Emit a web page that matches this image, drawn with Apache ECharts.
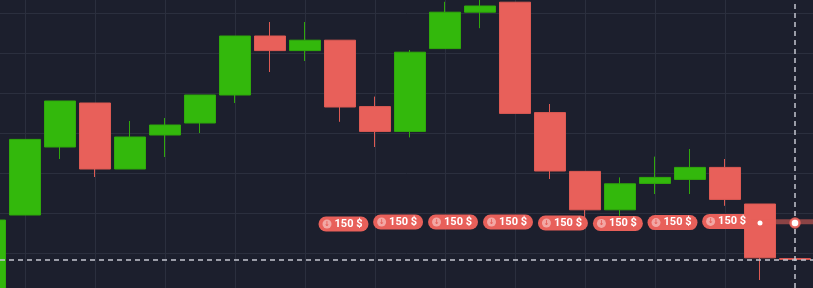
<!DOCTYPE html>
<html>
<head>
<meta charset="utf-8">
<script src="https://cdn.jsdelivr.net/npm/echarts@6/dist/echarts.min.js"></script>
<style>
html,body{margin:0;padding:0;background:#1c1f2d;}
#chart{width:813px;height:288px;}
</style>
</head>
<body>
<div id="chart"></div>
<script>
// Candle slot positions (index along time)
var slots = [0,1,2,3,4,5,6,7,8,9,10,11,12,13,14,15,16,17,18,19,20,21,22,23];
// OHLC
var opens  = [0, 19.5, 36.5, 47.5, 31, 39.5, 42.5, 49.5, 64.25, 60.6, 63.2, 46.6, 40.4, 61.1, 70.2, 72.7, 45.1, 30.4, 20.8, 27.4, 28.4, 31.4, 22.25, 8.6];
var closes = [18.25, 38.4, 48, 31, 39, 42, 49.5, 64.25, 60.6, 63.2, 46.5, 40.4, 60.2, 70.2, 71.75, 44.9, 30.5, 20.8, 27.3, 28.9, 31.4, 23.4, 8.8, 8.4];
var lows   = [0, 19.5, 33.5, 29, 31, 34, 40, 47.5, 55.25, 58, 42.8, 36.5, 38.9, 61.1, 66.2, 44.9, 28.5, 19, 19.3, 24.75, 24.75, 21.8, 3.25, 8.4];
var highs  = [18.25, 38.4, 48, 47.5, 43, 43.75, 49.5, 64.25, 67.75, 67.75, 63.2, 49.1, 60.75, 72.8, 73.5, 72.7, 47.25, 30.4, 28.9, 34.1, 36, 33.5, 22.25, 8.6];
// Trade markers ("150 $" pills)
var pillX = [10.1, 11.66, 13.23, 14.8, 16.37, 17.94, 19.5, 21.06];
var pillY = [17.25, 17.75, 17.75, 17.75, 17.5, 17.4, 17.6, 17.9];
var pillText = ['150 $','150 $','150 $','150 $','150 $','150 $','150 $','150 $'];
// current price / current time reference lines
var priceLine = 8.25;
var timeLine = 23;
// trail line and dots on the right
var trailX = [21.06, 23.6];
var trailY = [17.8, 17.8];
var dotSmall = [22, 17.5];
var dotBig = [23, 17.5];

// full-canvas extents (same scale as the plot)
var fullX = [0.285714, 23.514286];
var fullY = [1.25, 73.25];

var candleData = slots.map(function(x, i){ return [x, opens[i], closes[i], lows[i], highs[i]]; });

var RED = '#e8605a', GREEN = '#33b80c', GRID = '#2b2f3e';

var chart = echarts.init(document.getElementById('chart'), null, {renderer:'canvas'});
function hidden(o){ return Object.assign({type: 'value', axisLine: {show:false}, axisTick: {show:false}, axisLabel: {show:false}, splitLine: {show:false}}, o); }
chart.setOption({
  backgroundColor: '#1c1f2d',
  animation: false,
  grid: [
    {left: 25, right: 88, top: 0, bottom: 0},   // vertical grid lines, full height
    {left: 0, right: 0, top: 13, bottom: 35},   // horizontal grid lines, full width
    {left: 0, right: 0, top: 0, bottom: 0}      // overlay on whole canvas
  ],
  xAxis: [
    hidden({gridIndex: 0, min: 1, max: 21, interval: 2, splitLine: {show: true, lineStyle: {color: GRID, width: 1}}}),
    hidden({gridIndex: 1, min: fullX[0], max: fullX[1]}),
    hidden({gridIndex: 2, min: fullX[0], max: fullX[1]})
  ],
  yAxis: [
    hidden({gridIndex: 0, min: fullY[0], max: fullY[1]}),
    hidden({gridIndex: 1, min: 10, max: 70, interval: 10, splitLine: {show: true, lineStyle: {color: GRID, width: 1}}}),
    hidden({gridIndex: 2, min: fullY[0], max: fullY[1]})
  ],
  series: [{
    type: 'candlestick', xAxisIndex: 2, yAxisIndex: 2, data: candleData, barWidth: 31, clip: false,
    encode: {x: 0, y: [1, 2, 3, 4]},
    itemStyle: {color: GREEN, color0: RED, borderColor: '#2fa90b', borderColor0: '#dd5a53', borderWidth: 1}
  }, {
    type: 'line', xAxisIndex: 2, yAxisIndex: 2, symbol: 'none', silent: true, z: 3,
    data: [[fullX[0], priceLine], [fullX[1], priceLine]],
    lineStyle: {type: [5,4], color: '#c4c6cf', width: 1.5}
  }, {
    type: 'line', xAxisIndex: 2, yAxisIndex: 2, symbol: 'none', silent: true, z: 3,
    data: [[timeLine, fullY[0]], [timeLine, fullY[1]]],
    lineStyle: {type: [5,4], color: '#c4c6cf', width: 1.5}
  }, {
    type: 'line', xAxisIndex: 2, yAxisIndex: 2, silent: true,
    data: trailX.map(function(x,i){return [x, trailY[i]];}),
    symbol: 'none', lineStyle: {color: 'rgba(232,96,90,0.55)', width: 5}, z: 3
  }, {
    type: 'scatter', xAxisIndex: 2, yAxisIndex: 2, z: 4,
    data: pillX.map(function(x,i){ return {value:[x, pillY[i]], name: pillText[i]}; }),
    symbolSize: 1, itemStyle: {color: RED, opacity: 1},
    label: {
      show: true, position: 'inside',
      formatter: function(p){ return '{i|↓}{t|' + p.name + '}'; },
      backgroundColor: RED, borderRadius: 8, padding: [2,6,2,4],
      rich: {
        i: {width: 9, height: 9, lineHeight: 9, borderRadius: 4.5, backgroundColor: 'rgba(255,255,255,0.45)',
            color: RED, fontSize: 7, fontWeight: 'bold', align: 'center', fontFamily: 'DejaVu Sans'},
        t: {color: '#ffffff', fontSize: 11, lineHeight: 11, fontWeight: 'bold', fontFamily: 'Roboto', padding: [0,0,0,3]}
      }
    }
  }, {
    type: 'scatter', xAxisIndex: 2, yAxisIndex: 2, z: 5,
    data: [dotSmall], symbolSize: 5, itemStyle: {color: '#ffffff', opacity: 1}
  }, {
    type: 'scatter', xAxisIndex: 2, yAxisIndex: 2, z: 5,
    data: [dotBig], symbolSize: 9, itemStyle: {color: '#ffffff', opacity: 1, borderColor: 'rgba(232,96,90,0.9)', borderWidth: 2.5}
  }]
});
</script>
</body>
</html>
